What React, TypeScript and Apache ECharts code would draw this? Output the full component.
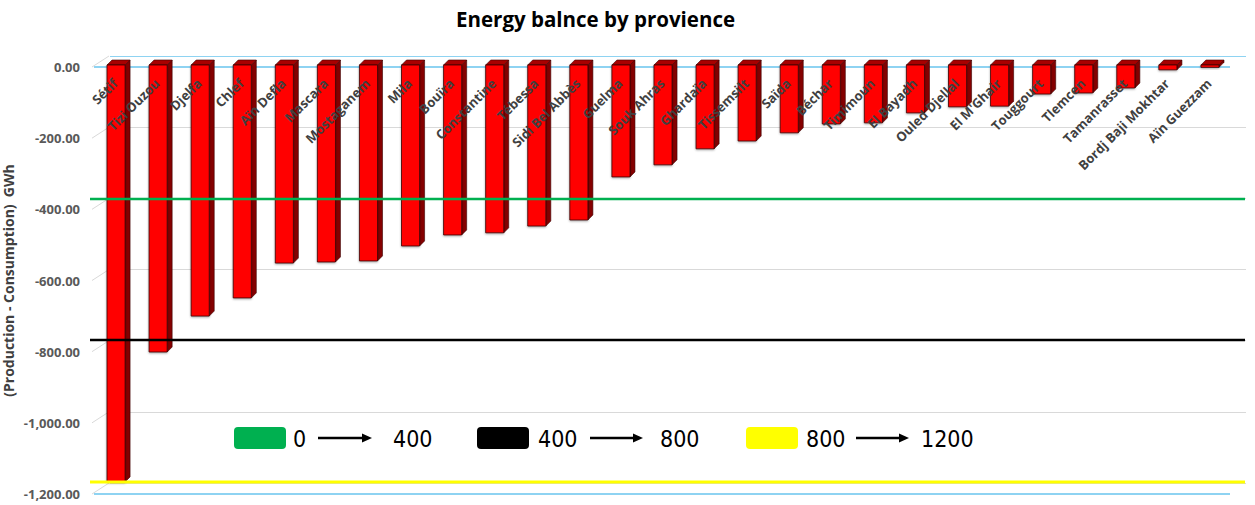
import React, { useEffect, useRef } from "react";
import * as echarts from "echarts";

const categories = [
  "Sétif", "Tizi Ouzou", "Djelfa", "Chlef", "Aïn Defla", "Mascara", "Mostaganem",
  "Mila", "Bouïra", "Constantine", "Tébessa", "Sidi Bel Abbès", "Guelma", "Souk Ahras",
  "Ghardaïa", "Tissemsilt", "Saïda", "Béchar", "Timimoun", "El Bayadh", "Ouled Djellal",
  "El M'Ghair", "Touggourt", "Tlemcen", "Tamanrasset", "Bordj Baji Mokhtar", "Aïn Guezzam",
];

const balance = [
  -1166, -801, -700, -649, -551, -548, -545, -503, -472, -466, -447, -430, -309, -275,
  -230, -208, -185, -160, -157, -129, -112, -110, -76, -73, -59, -8, -1,
];

const yTicks = [0, -200, -400, -600, -800, -1000, -1200];

const thresholdValues = [-371, -767, -1166];
const thresholdColors = ["#00B050", "#000000", "#FFFF00"];

const legendFrom = ["0", "400", "800"];
const legendTo = ["400", "800", "1200"];

// layout (pixels) for the drawn legend
const legendLayout = [
  { rect: 234, from: 293, a0: 318, a1: 372, to: 393 },
  { rect: 477, from: 538, a0: 590, a1: 643, to: 660 },
  { rect: 746, from: 806, a0: 856, a1: 909, to: 921 },
];

const fmt = (v: number) =>
  v.toLocaleString("en-US", { minimumFractionDigits: 2, maximumFractionDigits: 2 });

export default function App() {
  const ref = useRef<HTMLDivElement>(null);

  useEffect(() => {
    if (!ref.current) return;
    const chart = echarts.init(ref.current, undefined, { renderer: "svg" });

    const GT = 67;
    const GH = 427;
    const GL = 94;
    const GR = 25;

    const legendFont = '"Liberation Sans Narrow", "DejaVu Sans Condensed", sans-serif';
    const graphics: any[] = [];
    legendLayout.forEach((L, i) => {
      graphics.push({
        type: "rect",
        shape: { x: L.rect, y: 427, width: 52, height: 22, r: 4 },
        style: { fill: thresholdColors[i] },
        z: 100,
      });
      graphics.push({
        type: "text",
        x: L.from,
        y: 439,
        style: {
          text: legendFrom[i],
          font: `23px ${legendFont}`,
          fill: "#000",
          textVerticalAlign: "middle",
          textAlign: "left",
        },
        z: 100,
      });
      graphics.push({
        type: "line",
        shape: { x1: L.a0, y1: 438, x2: L.a1 - 9, y2: 438 },
        style: { stroke: "#000", lineWidth: 2.5 },
        z: 100,
      });
      graphics.push({
        type: "polygon",
        shape: { points: [[L.a1 - 10, 433.5], [L.a1, 438], [L.a1 - 10, 442.5]] },
        style: { fill: "#000" },
        z: 100,
      });
      graphics.push({
        type: "text",
        x: L.to,
        y: 439,
        style: {
          text: legendTo[i],
          font: `23px ${legendFont}`,
          fill: "#000",
          textVerticalAlign: "middle",
          textAlign: "left",
        },
        z: 100,
      });
    });

    const frontSplitColors = yTicks.map((_, i) =>
      i === 0 || i === yTicks.length - 1 ? "#8ED3F2" : "rgba(0,0,0,0)"
    );
    const backSplitColors = yTicks.map((_, i) =>
      i === yTicks.length - 1 ? "#8ED3F2" : "#D9D9D9"
    );

    const option: any = {
      animation: false,
      backgroundColor: "#ffffff",
      title: {
        text: "Energy balnce by provience",
        left: 451,
        top: 3,
        textStyle: {
          fontFamily: "Open Sans",
          fontWeight: "bold",
          fontSize: 20.5,
          color: "#000000",
        },
      },
      grid: [
        { left: GL, right: GR, top: GT, height: GH, outerBoundsMode: "none", containLabel: false },
        { left: GL + 16, right: GR - 16, top: GT - 11, height: GH, outerBoundsMode: "none", containLabel: false },
        { left: 90, right: 10, top: GT, height: GH, outerBoundsMode: "none", containLabel: false },
      ],
      xAxis: [
        {
          type: "category",
          gridIndex: 0,
          data: categories,
          position: "bottom",
          offset: -GH,
          z: 10,
          axisLine: { show: false, onZero: false },
          axisTick: { show: false },
          splitLine: { show: false },
          axisLabel: {
            interval: 0,
            rotate: 45,
            margin: 14,
            fontFamily: "Open Sans",
            fontWeight: "bold",
            fontSize: 13,
            color: "#404040",
          },
        },
        {
          type: "category",
          gridIndex: 1,
          data: categories,
          show: false,
        },
        {
          type: "value",
          gridIndex: 2,
          min: 0,
          max: 1,
          show: false,
        },
      ],
      yAxis: [
        {
          type: "value",
          gridIndex: 0,
          min: -1200,
          max: 0,
          interval: 200,
          axisLine: { show: false },
          axisTick: { show: false },
          splitLine: { show: true, lineStyle: { color: frontSplitColors, width: 2 } },
          axisLabel: {
            formatter: (v: number) => fmt(v),
            margin: 14,
            fontFamily: "Open Sans",
            fontWeight: "bold",
            fontSize: 13,
            color: "#595959",
          },
          name: "(Production - Consumption)  GWh",
          nameLocation: "middle",
          nameGap: 78,
          nameMoveOverlap: false,
          nameTextStyle: {
            fontFamily: "Open Sans",
            fontWeight: "bold",
            fontSize: 14,
            lineHeight: 16,
            color: "#404040",
          },
        },
        {
          type: "value",
          gridIndex: 1,
          min: -1200,
          max: 0,
          interval: 200,
          axisLine: { show: false },
          axisTick: { show: false },
          axisLabel: { show: false },
          splitLine: { show: true, lineStyle: { color: backSplitColors, width: 1 } },
        },
        {
          type: "value",
          gridIndex: 2,
          min: -1200,
          max: 0,
          show: false,
          splitLine: { show: false },
        },
      ],
      series: [
        {
          type: "custom",
          xAxisIndex: 0,
          yAxisIndex: 0,
          z: 1,
          data: yTicks.map((v) => [0, v]),
          renderItem: (params: any, api: any) => {
            const p = api.coord([0, api.value(1)]);
            const left = p[0] - api.size([1, 0])[0] / 2;
            return {
              type: "line",
              shape: { x1: left - 2, y1: p[1], x2: left + 15, y2: p[1] - 11 },
              style: { stroke: "#D9D9D9", lineWidth: 1 },
            };
          },
        },
        {
          type: "custom",
          xAxisIndex: 0,
          yAxisIndex: 0,
          z: 3,
          data: balance.map((v, i) => [i, v]),
          renderItem: (params: any, api: any) => {
            const idx = api.value(0);
            const v = api.value(1);
            const top = api.coord([idx, 0]);
            const bot = api.coord([idx, v]);
            const bw = api.size([1, 0])[0] * 0.43;
            const x0 = top[0] - bw / 2 + 1;
            const x1 = x0 + bw;
            const y0 = top[1] - 2;
            const y1 = bot[1];
            const dx = 5;
            const dy = -5;
            return {
              type: "group",
              children: [
                {
                  type: "polygon",
                  shape: { points: [[x1, y0], [x1 + dx, y0 + dy], [x1 + dx, y1 + dy], [x1, y1]] },
                  style: { fill: "#850000", stroke: "#3A0000", lineWidth: 0.6 },
                },
                {
                  type: "polygon",
                  shape: { points: [[x0, y0], [x0 + dx, y0 + dy], [x1 + dx, y0 + dy], [x1, y0]] },
                  style: { fill: "#A80000", stroke: "#3A0000", lineWidth: 0.6 },
                },
                {
                  type: "rect",
                  shape: { x: x0, y: y0, width: bw, height: Math.max(y1 - y0, 0.5) },
                  style: {
                    fill: "#FF0000",
                    stroke: "#3A0000",
                    lineWidth: 0.8,
                    shadowBlur: 2,
                    shadowOffsetY: 1,
                    shadowColor: "rgba(0,0,0,0.35)",
                  },
                },
              ],
            };
          },
        },
        ...thresholdValues.map((v, i) => ({
          type: "line",
          xAxisIndex: 2,
          yAxisIndex: 2,
          z: 5,
          symbol: "none",
          silent: true,
          data: [[0, v], [1, v]],
          lineStyle: { color: thresholdColors[i], width: i === 2 ? 3 : 2.5 },
        })),
      ],
      graphic: graphics,
    };

    chart.setOption(option);
    return () => {
      chart.dispose();
    };
  }, []);

  return (
    <div
      ref={ref}
      style={{ position: "fixed", left: 0, top: 0, width: 1255, height: 505 }}
    />
  );
}
